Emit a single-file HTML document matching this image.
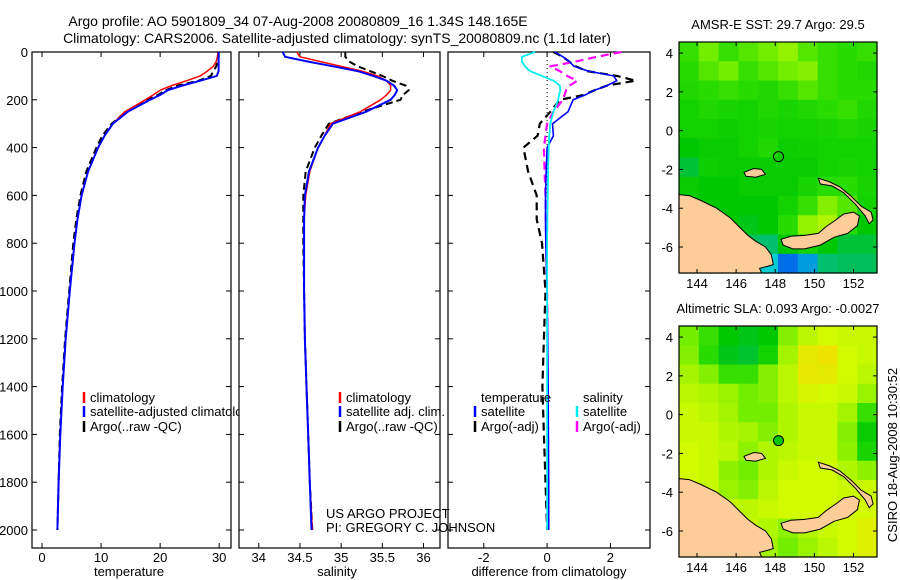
<!DOCTYPE html>
<html><head><meta charset="utf-8"><style>
body{margin:0;background:#fff;}
svg{display:block;font-family:"Liberation Sans",sans-serif;}
text{font-size:13px;fill:#000;}
</style></head><body>
<svg id="fig" width="900" height="580" viewBox="0 0 900 580">
<text x="298" y="26" text-anchor="middle" style="font-size:14px">Argo profile: AO 5901809_34 07-Aug-2008 20080809_16 1.34S 148.165E</text>
<text x="337" y="43" text-anchor="middle" style="font-size:14px">Climatology: CARS2006. Satellite-adjusted climatology: synTS_20080809.nc (1.1d later)</text>
<g id="g"></g>
</svg>
<script>
// ---- profile data ----
const depths=[0,20,40,60,80,100,120,140,160,180,200,250,300,350,400,500,600,700,800,1000,1200,1400,1600,1800,2000];
const tempClim=[29.8,29.7,29.5,29.0,28.0,26.8,24.5,22.0,20.0,18.8,17.5,14.0,12.0,10.6,9.5,7.8,6.7,6.0,5.5,4.7,4.0,3.5,3.1,2.8,2.6];
const tempSat=[29.9,29.9,29.9,29.9,29.9,29.6,26.8,23.8,21.3,20.0,18.3,14.5,12.0,10.6,9.5,7.8,6.7,6.0,5.5,4.7,4.0,3.5,3.1,2.8,2.6];
const tempArgo=[29.8,29.9,29.7,29.5,29.0,28.6,26.5,23.0,21.0,19.6,17.8,14.2,11.8,10.2,9.2,7.5,6.5,5.8,5.3,4.6,3.9,3.4,3.0,2.8,2.6];
const salClim=[34.46,34.5,34.75,35.0,35.25,35.44,35.55,35.6,35.6,35.55,35.48,35.23,34.87,34.8,34.72,34.62,34.57,34.55,34.55,34.55,34.56,34.58,34.6,34.62,34.65];
const salSat=[34.29,34.32,34.6,34.9,35.2,35.39,35.55,35.64,35.68,35.65,35.6,35.3,34.9,34.8,34.72,34.61,34.56,34.55,34.55,34.55,34.56,34.58,34.6,34.62,34.64];
const salArgo=[35.05,35.05,35.1,35.2,35.35,35.5,35.62,35.78,35.82,35.75,35.72,35.25,34.85,34.76,34.68,34.57,34.54,34.54,34.54,34.55,34.56,34.58,34.6,34.62,34.65];
const dTempSat=[0.25,0.5,0.7,0.85,1.3,2.1,2.2,1.9,1.5,1.2,0.82,0.66,0.17,0.2,0,-0.03,-0.05,-0.05,-0.04,0,0.02,0.03,0.04,0.05,0.05];
const dTempArgo=[0.2,0.5,0.7,0.9,1.26,2.2,2.8,1.9,1.5,1.15,0.4,0.1,-0.23,-0.3,-0.75,-0.6,-0.33,-0.33,-0.16,-0.05,-0.1,-0.15,-0.1,-0.05,0];
const dSalSat=[-0.38,-0.8,-0.8,-0.7,-0.54,-0.16,0.2,0.4,0.42,0.38,0.35,0.2,0.1,0.07,0.05,0.03,0.02,0.01,0,0,0,0,0,0,0];
const dSalArgo=[2.35,1.57,0.9,0.1,0.4,0.63,0.95,0.72,0.6,0.55,0.5,0.2,0,-0.05,-0.1,-0.08,-0.05,-0.04,-0.03,0,0.01,0.02,0.02,0.01,0];
const depthTicks=[0,200,400,600,800,1000,1200,1400,1600,1800,2000];
const tempTicks=[0,10,20,30];
const salTicks=[34,34.5,35,35.5,36];
const salTickLabels=["34","34.5","35","35.5","36"];
const diffTicks=[-2,0,2];
// ---- map data (rows top->bottom, cols left->right), normalized colour index ----
const sstGrid=[
[0.62,0.7,0.62,0.66,0.7,0.75,0.66,0.62,0.6,0.62],
[0.6,0.66,0.7,0.62,0.66,0.7,0.72,0.62,0.6,0.58],
[0.58,0.6,0.62,0.6,0.58,0.62,0.66,0.62,0.6,0.6],
[0.55,0.58,0.56,0.55,0.58,0.56,0.58,0.6,0.62,0.58],
[0.55,0.55,0.53,0.55,0.56,0.55,0.55,0.56,0.58,0.56],
[0.5,0.52,0.52,0.55,0.58,0.53,0.54,0.55,0.55,0.55],
[0.45,0.53,0.52,0.52,0.52,0.52,0.52,0.55,0.56,0.55],
[0.52,0.5,0.5,0.52,0.52,0.52,0.56,0.6,0.6,0.56],
[0.5,0.5,0.5,0.5,0.5,0.55,0.62,0.72,0.66,0.55],
[0.5,0.5,0.5,0.48,0.5,0.6,0.75,0.8,0.6,0.5],
[0.45,0.45,0.45,0.42,0.4,0.5,0.55,0.5,0.45,0.45],
[0.42,0.42,0.42,0.38,0.3,0.2,0.25,0.4,0.42,0.42]];
const slaGrid=[
[0.7,0.62,0.5,0.48,0.5,0.72,0.82,0.86,0.84,0.84],
[0.72,0.6,0.48,0.46,0.55,0.78,0.92,0.95,0.86,0.84],
[0.78,0.72,0.62,0.62,0.72,0.82,0.93,0.92,0.86,0.82],
[0.82,0.8,0.76,0.7,0.72,0.82,0.88,0.86,0.84,0.76],
[0.84,0.82,0.78,0.7,0.7,0.8,0.84,0.84,0.78,0.62],
[0.84,0.84,0.8,0.78,0.72,0.8,0.84,0.84,0.72,0.52],
[0.86,0.84,0.82,0.74,0.8,0.82,0.84,0.84,0.74,0.56],
[0.86,0.84,0.74,0.7,0.8,0.84,0.86,0.86,0.8,0.74],
[0.86,0.84,0.76,0.72,0.82,0.86,0.86,0.86,0.84,0.84],
[0.86,0.86,0.84,0.82,0.84,0.86,0.86,0.86,0.86,0.86],
[0.86,0.86,0.84,0.84,0.8,0.74,0.8,0.84,0.86,0.9],
[0.86,0.86,0.84,0.84,0.78,0.7,0.76,0.82,0.86,0.9]];
const lonTicks=[144,146,148,150,152];
const latTicks=[4,2,0,-2,-4,-6];
const argoLon=148.165, argoLat=-1.34;
const landNG=[[143.08,-3.3],[143.6,-3.35],[144.2,-3.6],[145,-4.0],[145.7,-4.5],[146.2,-5.0],[146.6,-5.4],[147,-5.7],[147.5,-6.0],[147.8,-6.4],[147.9,-6.9],[147.6,-7.0],[147.2,-7.1],[147.3,-7.34],[143.08,-7.34]];
const landNB=[[148.3,-5.6],[148.8,-5.45],[149.5,-5.4],[150.2,-5.3],[150.6,-4.95],[151.1,-4.6],[151.5,-4.3],[152,-4.2],[152.3,-4.4],[152.2,-4.9],[151.7,-5.3],[151,-5.5],[150.3,-5.9],[149.5,-6.1],[148.9,-6.1],[148.4,-5.9]];
const landNI=[[150.2,-2.45],[150.8,-2.65],[151.3,-2.9],[151.9,-3.4],[152.4,-3.9],[152.9,-4.2],[153.0,-4.6],[152.8,-4.8],[152.6,-4.4],[152.1,-3.8],[151.5,-3.2],[150.9,-2.85],[150.3,-2.75]];
const landManus=[[146.4,-2.15],[146.9,-1.95],[147.3,-2.0],[147.5,-2.25],[147.0,-2.4],[146.5,-2.35]];

const NS="http://www.w3.org/2000/svg";
const G=document.getElementById('g');
function mk(tag,attrs,parent){const e=document.createElementNS(NS,tag);for(const k in attrs)e.setAttribute(k,attrs[k]);(parent||G).appendChild(e);return e;}
function txt(x,y,s,anchor,parent){const t=mk('text',{x:x,y:y,'text-anchor':anchor||'start'},parent);t.textContent=s;return t;}

const yTop=52,y2000=530,yBot=548;
const yD=d=>yTop+d*(y2000-yTop)/2000;

function panel(name,x0,x1,vmin,vmax){
  const sx=v=>x0+(v-vmin)*(x1-x0)/(vmax-vmin);
  const g=mk('g',{});
  
  
  const r=mk('rect',{x:x0,y:yTop,width:x1-x0,height:yBot-yTop,fill:'#fff',stroke:'#000','stroke-width':1.2},g);
  
  
  depthTicks.forEach(d=>{
    mk('line',{x1:x0,x2:x0+5,y1:yD(d),y2:yD(d),stroke:'#000'},g);
    mk('line',{x1:x1,x2:x1-5,y1:yD(d),y2:yD(d),stroke:'#000'},g);
  });
  return {g,sx};
}
function curve(p,arr,color,w,dash,name){
  const pts=arr.map((v,i)=>p.sx(v).toFixed(1)+','+yD(depths[i]).toFixed(1)).join(' ');
  const e=mk('polyline',{points:pts,fill:'none',stroke:color,'stroke-width':w,'stroke-dasharray':dash||'none','stroke-linejoin':'round'},p.g);
  
  
}
function xticks(p,ticks,labels){
  ticks.forEach((t,i)=>{
    const x=p.sx(t);
    mk('line',{x1:x,x2:x,y1:yBot,y2:yBot-5,stroke:'#000'},p.g);
    mk('line',{x1:x,x2:x,y1:yTop,y2:yTop+5,stroke:'#000'},p.g);
    const l=txt(x,562,labels?labels[i]:String(t),'middle',p.g);
    
    
  });
}
function legendRow(p,x,y,color,label){
  mk('line',{x1:x,x2:x,y1:y-10,y2:y+1,stroke:color,'stroke-width':2.5},p.g);
  const t=txt(x+6,y,label,'start',p.g);
  
  
}

// Panel 1 temperature
const p1=panel('temperature-panel',32,231,-1.7,32);
depthTicks.forEach(d=>{const l=txt(28,yD(d)+5,String(d),'end');});
xticks(p1,tempTicks);
curve(p1,tempArgo,'#000',2,'7,4','temp-argo-line');
curve(p1,tempClim,'#f00',1.5,null,'temp-climatology-line');
curve(p1,tempSat,'#00f',2,null,'temp-satellite-line');
let t=txt(129,576,'temperature','middle');
legendRow(p1,84,402,'#f00','climatology');
legendRow(p1,84,416,'#00f','satellite-adjusted climatology');
legendRow(p1,84,431,'#000','Argo(..raw -QC)');

// Panel 2 salinity
const p2=panel('salinity-panel',239,440,33.76,36.2);
xticks(p2,salTicks,salTickLabels);
curve(p2,salArgo,'#000',2,'7,4','sal-argo-line');
curve(p2,salClim,'#f00',1.5,null,'sal-climatology-line');
curve(p2,salSat,'#00f',2,null,'sal-satellite-line');
t=txt(337,576,'salinity','middle');
legendRow(p2,340,402,'#f00','climatology');
legendRow(p2,340,416,'#00f','satellite adj. clim.');
legendRow(p2,340,431,'#000','Argo(..raw -QC)');

// Panel 3 differences
const p3=panel('difference-panel',448,650,-3.13,3.25);
xticks(p3,diffTicks);
mk('line',{x1:p3.sx(0),x2:p3.sx(0),y1:yTop,y2:yD(2000),stroke:'#000','stroke-dasharray':'1,3'},p3.g);
curve(p3,dTempArgo,'#000',2.2,'8,5','diff-temp-argo-line');
curve(p3,dSalArgo,'#f0f',2.2,'8,5','diff-sal-argo-line');
curve(p3,dTempSat,'#00f',1.6,null,'diff-temp-satellite-line');
curve(p3,dSalSat,'#0ee',1.8,null,'diff-sal-satellite-line');
t=txt(549,576,'difference from climatology','middle');
t=txt(481,402,'temperature','start',p3.g);
t=txt(583,402,'salinity','start',p3.g);
legendRow(p3,475,416,'#00f','satellite');
legendRow(p3,475,431,'#000','Argo(-adj)');
legendRow(p3,577,416,'#0ee','satellite');
legendRow(p3,577,431,'#f0f','Argo(-adj)');

// credits drawn on top
t=txt(326,518,'US ARGO PROJECT');
t=txt(326,532,'PI: GREGORY C. JOHNSON');

// ---- maps ----
const stops=[[0,[0,0,170]],[0.2,[0,110,230]],[0.3,[0,204,210]],[0.42,[0,190,90]],[0.5,[0,200,0]],[0.6,[40,220,0]],[0.72,[130,240,0]],[0.86,[210,250,0]],[1,[255,215,0]]];
function cmap(v){for(let i=1;i<stops.length;i++){if(v<=stops[i][0]){const a=stops[i-1],b=stops[i],f=(v-a[0])/(b[0]-a[0]);const c=a[1].map((q,k)=>Math.round(q+(b[1][k]-q)*f));return 'rgb('+c.join(',')+')';}}return 'rgb(255,215,0)';}
function map(name,title,y0,grid,filledMarker){
  const x0=679,x1=877,yt=y0,yb=y0+231;
  const lon0=143.08,lon1=153.2,lat0=4.57,lat1=-7.34;
  const mx=l=>x0+(l-lon0)*(x1-x0)/(lon1-lon0);
  const my=l=>yt+(l-lat0)*(yb-yt)/(lat1-lat0);
  const g=mk('g',{});
  
  
  const tt=txt(778,yt-13,title,'middle',g);
  
  
  const rows=grid.length,cols=grid[0].length,cw=(x1-x0)/cols,ch=(yb-yt)/rows;
  grid.forEach((row,r)=>row.forEach((v,c)=>{
    const cell=mk('rect',{x:x0+c*cw,y:yt+r*ch,width:cw+0.6,height:ch+0.6,fill:cmap(v)},g);
    
    
  }));
  [[landNG,'land-new-guinea'],[landNB,'land-new-britain'],[landNI,'land-new-ireland'],[landManus,'land-manus']].forEach(([poly,n])=>{
    const e=mk('polygon',{points:poly.map(p=>mx(p[0]).toFixed(1)+','+my(p[1]).toFixed(1)).join(' '),fill:'#fccc99',stroke:'#000','stroke-width':1},g);
    
    
  });
  const c=mk('circle',{cx:mx(argoLon),cy:my(argoLat),r:5,fill:filledMarker?'#00c800':'none',stroke:'#000','stroke-width':1},g);
  
  
  mk('rect',{x:x0,y:yt,width:x1-x0,height:yb-yt,fill:'none',stroke:'#000','stroke-width':1.2},g);
  lonTicks.forEach(l=>{const x=mx(l);mk('line',{x1:x,x2:x,y1:yb,y2:yb-4,stroke:'#000'},g);mk('line',{x1:x,x2:x,y1:yt,y2:yt+4,stroke:'#000'},g);
    const lb=txt(x,yb+15,String(l),'middle',g);});
  latTicks.forEach(l=>{const y=my(l);mk('line',{x1:x0,x2:x0+4,y1:y,y2:y,stroke:'#000'},g);mk('line',{x1:x1,x2:x1-4,y1:y,y2:y,stroke:'#000'},g);
    const lb=txt(x0-6,y+5,String(l),'end',g);});
}
map('sst-map','AMSR-E SST: 29.7 Argo: 29.5',42,sstGrid,false);
map('sla-map','Altimetric SLA: 0.093 Argo: -0.0027',326,slaGrid,true);
t=txt(0,0,'CSIRO 18-Aug-2008 10:30:52','middle');
t.setAttribute('transform','translate(897,455) rotate(-90)');


</script>
</body></html>
